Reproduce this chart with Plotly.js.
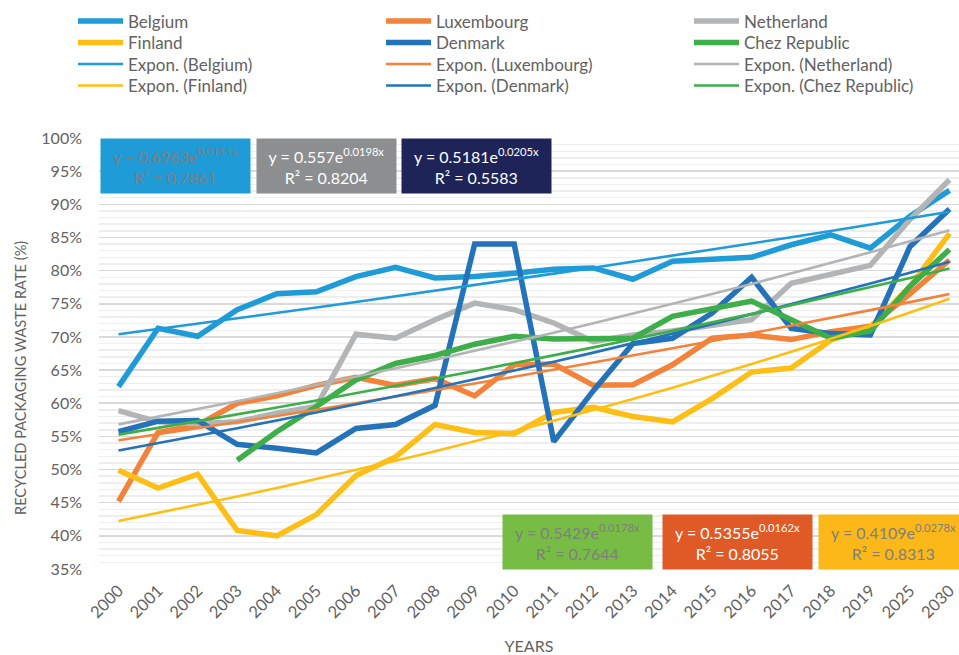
<!DOCTYPE html>
<html>
<head>
<meta charset="utf-8">
<script src="https://cdn.plot.ly/plotly-3.0.1.min.js"></script>
<style>html,body{margin:0;padding:0;background:#fff;overflow:hidden}#chart{width:959px;height:655px}</style>
</head>
<body>
<div id="chart"></div>
<script>
// ---- data ----
const years = ['2000','2001','2002','2003','2004','2005','2006','2007','2008','2009','2010',
               '2011','2012','2013','2014','2015','2016','2017','2018','2019','2025','2030'];

const belgium    = [62.5, 71.3, 70.1, 74.1, 76.5, 76.8, 79.1, 80.5, 78.9, 79.1, 79.6, 80.2, 80.4, 78.7, 81.4, 81.6, 82.0, 83.9, 85.4, 83.4, 88.2, 92.1];
const luxembourg = [45.2, 55.6, 56.7, 60.0, 61.1, 62.7, 63.9, 62.7, 63.7, 61.1, 65.8, 65.9, 62.7, 62.8, 65.8, 69.8, 70.3, 69.6, 70.8, 71.6, 76.5, 81.6];
const netherland = [58.9, 57.2, 56.9, 57.2, 58.5, 59.5, 70.4, 69.8, 72.6, 75.1, 74.1, 72.1, 69.3, 70.3, 70.9, 71.7, 72.6, 78.1, 79.4, 80.8, 87.7, 93.7];
const finland    = [49.9, 47.2, 49.3, 40.8, 40.0, 43.2, 49.1, 51.9, 56.8, 55.6, 55.4, 58.6, 59.4, 58.0, 57.2, 60.7, 64.7, 65.3, 69.5, 71.5, 77.6, 85.6];
const denmark    = [55.7, 57.3, 57.4, 53.8, 53.2, 52.5, 56.2, 56.8, 59.7, 84.0, 84.0, 54.2, 61.9, 69.0, 69.8, 73.6, 79.0, 71.3, 70.5, 70.3, 83.6, 89.3];
const chez       = [null, null, null, 51.4, 55.7, 59.5, 63.5, 66.0, 67.2, 68.9, 70.1, 69.7, 69.8, 69.8, 73.1, 74.3, 75.4, 72.6, 69.8, 70.9, 77.6, 83.2];

const seriesNames = ['Belgium','Luxembourg','Netherland','Finland','Denmark','Chez Republic'];

// exponential trendline equations printed on the chart: y = a * e^(b x), x = 1..22
const trendA = [0.6963, 0.5355, 0.557, 0.4109, 0.5181, 0.5429];
const trendB = [0.0111, 0.0162, 0.0198, 0.0278, 0.0205, 0.0178];
const trendR2 = ['0.7861','0.8055','0.8204','0.8313','0.5583','0.7644'];

const yTicks = [35,40,45,50,55,60,65,70,75,80,85,90,95,100];
const yTickText = ['35%','40%','45%','50%','55%','60%','65%','70%','75%','80%','85%','90%','95%','100%'];
const yTitle = 'RECYCLED PACKAGING WASTE RATE (%)';
const xTitle = 'YEARS';

// ---- styling ----
const colors = ['#1F9BD8','#F3823A','#B3B4B6','#FDBE16','#2372BA','#3DAE49'];
const FONT = 'Lato, "Open Sans", sans-serif';
const GREY = '#626262';

const allSeries = [belgium, luxembourg, netherland, finland, denmark, chez];
const traces = [];
allSeries.forEach((s, i) => {
  traces.push({
    type: 'scatter', mode: 'lines', x: years, y: s, name: seriesNames[i],
    line: {color: colors[i], width: 5.5}, connectgaps: false, hoverinfo: 'skip'
  });
});
allSeries.forEach((s, i) => {
  const tr = years.map((_, k) => 100 * trendA[i] * Math.exp(trendB[i] * (k + 1)));
  traces.push({
    type: 'scatter', mode: 'lines', x: years, y: tr, name: 'Expon. (' + seriesNames[i] + ')',
    line: {color: colors[i], width: 2.6}, hoverinfo: 'skip'
  });
});

// one small legend per entry, laid out as the 3 x 4 grid of the reference
const legendColX = [73, 381, 689];
const legendRowTop = [3.5, 25, 46.5, 68];
const layoutLegends = {};
traces.forEach((t, k) => {
  const key = k === 0 ? 'legend' : 'legend' + (k + 1);
  t.legend = key;
  const col = k % 3, row = Math.floor(k / 3);
  layoutLegends[key] = {
    xref:'container', yref:'container', x: legendColX[col] / 959, y: 1 - legendRowTop[row] / 655,
    xanchor:'left', yanchor:'top', itemwidth:45, bgcolor:'rgba(0,0,0,0)',
    font:{family:FONT, size:17, color:GREY}
  };
});

// equation boxes
function eq(i){ return 'y = ' + trendA[i] + 'e<sup>' + trendB[i] + 'x</sup><br>R² = ' + trendR2[i]; }
const boxes = [
  {i:0, left:100, top:138, w:149, bg:'#1F9BD7', fc:'#7F7F7F'},
  {i:2, left:256, top:138, w:139, bg:'#8D8E90', fc:'#FFFFFF'},
  {i:4, left:401, top:138, w:149, bg:'#1E2458', fc:'#FFFFFF'},
  {i:5, left:502, top:514, w:149, bg:'#77BC45', fc:'#7F7F7F'},
  {i:1, left:662, top:514, w:149, bg:'#E05A27', fc:'#FFFFFF'},
  {i:3, left:818, top:514, w:149, bg:'#FBB818', fc:'#7F7F7F'}
];
const L = 99, R = 959, T = 138, B = 569;
const annotations = boxes.map(b => ({
  xref:'paper', yref:'paper', x:(b.left - L)/(R - L), y:(B - b.top)/(B - T),
  xanchor:'left', yanchor:'top', showarrow:false, align:'center', valign:'middle',
  width:b.w, height:54, borderpad:0, bgcolor:b.bg,
  text: eq(b.i), font:{family:FONT, size:16, color:b.fc}
}));
// y-axis title (rotated), placed left of the tick labels
annotations.push({
  xref:'paper', yref:'paper', x:(20 - L)/(R - L), y:(B - 378)/(B - T),
  xanchor:'center', yanchor:'middle', textangle:-90, showarrow:false,
  text: yTitle, font:{family:FONT, size:14.6, color:GREY}
});

const layout = Object.assign({
  width: 959, height: 655,
  margin: {l: L, r: 959 - R, t: T, b: 655 - B, pad: 0, autoexpand: false},
  paper_bgcolor: '#fff', plot_bgcolor: '#fff',
  font: {family: FONT, color: GREY, size: 15},
  showlegend: true,
  xaxis: {
    type:'category', range:[-0.493, 21.24], tickangle:-45, showgrid:false, zeroline:false,
    showline:false, ticks:'', tickfont:{family:FONT, size:16.5, color:GREY}, ticklabelstandoff:8,
    title:{text:xTitle, font:{family:FONT, size:16, color:GREY}, standoff:22}, automargin:false
  },
  yaxis: {
    range:[35,100], tickmode:'array', tickvals:yTicks, ticktext:yTickText, zeroline:false, showline:false, ticks:'',
    tickfont:{family:FONT, size:16, color:GREY}, ticklabelstandoff:16,
    showgrid:true, gridcolor:'#D9D9D9', gridwidth:1.5,
    minor:{dtick:1, showgrid:true, gridcolor:'#EEEEEE', gridwidth:1.5},
    automargin:false
  },
  annotations: annotations
}, layoutLegends);

Plotly.newPlot('chart', traces, layout, {displayModeBar:false, staticPlot:true});
</script>
</body>
</html>
